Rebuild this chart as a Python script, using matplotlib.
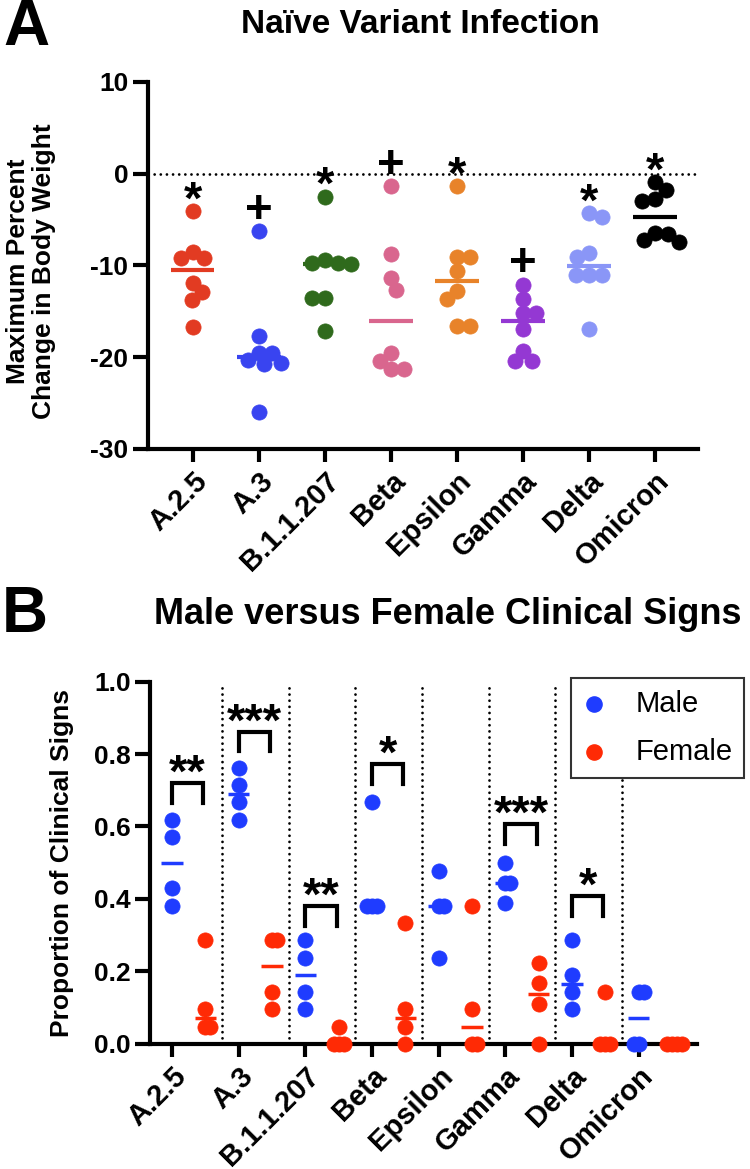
import numpy as np
import matplotlib.pyplot as plt

plt.rcParams['font.family'] = ['Liberation Sans', 'DejaVu Sans']
plt.rcParams['axes.unicode_minus'] = False

# Panel A: maximum percent change in body weight, 8 animals per variant
variants = ['A.2.5', 'A.3', 'B.1.1.207', 'Beta', 'Epsilon', 'Gamma', 'Delta', 'Omicron']
weight_a25 = [-4.1, -8.5, -9.2, -9.2, -11.9, -12.9, -13.8, -16.7]
weight_a3 = [-6.3, -17.7, -19.5, -19.6, -20.3, -20.6, -20.8, -26.0]
weight_b11207 = [-2.5, -9.4, -9.7, -9.7, -9.9, -13.6, -13.6, -17.2]
weight_beta = [-1.4, -8.8, -11.4, -12.7, -19.5, -20.4, -21.3, -21.3]
weight_epsilon = [-1.4, -9.1, -9.1, -10.6, -12.8, -13.7, -16.6, -16.6]
weight_gamma = [-12.1, -13.7, -15.2, -15.2, -16.9, -19.3, -20.4, -20.4]
weight_delta = [-4.3, -4.7, -8.6, -9.1, -11.1, -11.1, -11.1, -16.9]
weight_omicron = [-0.9, -1.8, -2.8, -3.0, -6.5, -6.6, -7.2, -7.4]
marks_a = ['*', '+', '*', '+', '*', '+', '*', '*']
colors_a = ['#E23B22', '#3944F0', '#2F6A1C', '#D9668E', '#E8832A', '#9438D3', '#8A96F7', '#000000']

# Panel B: proportion of clinical signs, male vs female
male = [[0.619, 0.571, 0.429, 0.381],
        [0.762, 0.714, 0.667, 0.619],
        [0.286, 0.238, 0.143, 0.095],
        [0.667, 0.381, 0.381, 0.381],
        [0.476, 0.381, 0.381, 0.238],
        [0.500, 0.444, 0.444, 0.389],
        [0.286, 0.190, 0.143, 0.095],
        [0.143, 0.143, 0.0, 0.0]]
female = [[0.286, 0.095, 0.048, 0.048],
          [0.286, 0.286, 0.143, 0.095],
          [0.048, 0.0, 0.0, 0.0],
          [0.333, 0.095, 0.048, 0.0],
          [0.381, 0.095, 0.0, 0.0],
          [0.222, 0.167, 0.111, 0.0],
          [0.143, 0.0, 0.0, 0.0],
          [0.0, 0.0, 0.0, 0.0]]
sig_b = ['**', '***', '**', '*', '', '***', '*', '']
bracket_b = [0.72, 0.862, 0.381, 0.773, None, 0.607, 0.409, None]

blue = '#1F3CFF'
red = '#FF2A05'

# vertical centre of each symbol glyph above its baseline, in em
glyph_mid = {'*': 0.58, '+': 0.35}


def swarm(values, px_x, px_y, diam):
    # horizontal offsets (data units) so markers don't stack on top of each other
    values = np.asarray(values, dtype=float)
    placed = []
    offsets = np.zeros(len(values))
    for i in np.argsort(-values, kind='stable'):
        y = values[i] * px_y
        right = sum(1 for p in placed if p[0] > 0.1)
        left = sum(1 for p in placed if p[0] < -0.1)
        signs = (1, -1) if right <= left else (-1, 1)
        chosen = 0.0
        for c in np.arange(0, 80, 0.5):
            hit = None
            for s in (signs if c else (1,)):
                x = s * c
                if all((x - px) ** 2 + (y - py) ** 2 >= diam ** 2 for px, py in placed):
                    hit = x
                    break
            if hit is not None:
                chosen = hit
                break
        placed.append((chosen, y))
        offsets[i] = chosen / px_x
    return offsets


def symbol(axis, x, y, text, size):
    # put the middle of the glyph (not of the text box) at (x, y)
    axis.annotate(text, (x, y), xytext=(0, -glyph_mid[text[0]] * size),
                  textcoords='offset points', ha='center', va='baseline',
                  fontsize=size, fontweight='bold', zorder=5)


def style_axis(axis):
    axis.tick_params(axis='y', length=11, width=3, pad=3)
    axis.tick_params(axis='x', length=9, width=3, pad=4)
    for side in ['top', 'right']:
        axis.spines[side].set_visible(False)
    for side in ['left', 'bottom']:
        axis.spines[side].set_linewidth(3)
    for lab in axis.get_yticklabels():
        lab.set_fontweight('bold')
        lab.set_fontsize(19)


fig = plt.figure(figsize=(7.5, 11.69), dpi=100)

# ---------------- Panel A ----------------
ax = fig.add_axes([0.197, 0.616, 0.734, 0.314])
groups_a = [weight_a25, weight_a3, weight_b11207, weight_beta,
            weight_epsilon, weight_gamma, weight_delta, weight_omicron]
ax.axhline(0, color='black', lw=2.0, ls=(0, (0.01, 2.2)), dash_capstyle='round', zorder=1)
for i, vals in enumerate(groups_a):
    off = swarm(vals, 66, 9.2, 13)
    ax.scatter(i + off, vals, s=120, color=colors_a[i], edgecolor=colors_a[i],
               linewidth=0.5, zorder=3)
    med = np.median(vals)
    ax.plot([i - 0.33, i + 0.33], [med, med], color=colors_a[i], lw=3, zorder=2,
            solid_capstyle='butt')
    symbol(ax, i, max(vals) + 2.7, marks_a[i], 34)

ax.set_xlim(-0.68, 7.65)
ax.set_ylim(-30, 10)
ax.set_yticks([10, 0, -10, -20, -30])
ax.set_xticks(range(len(variants)))
ax.set_xticklabels(variants, rotation=45, ha='right', rotation_mode='anchor',
                   fontsize=21, fontweight='bold')
style_axis(ax)

fig.text(31 / 750, 1 - 271 / 1169, 'Maximum Percent\nChange in Body Weight', rotation=90,
         ha='center', va='center', multialignment='center', fontsize=19,
         fontweight='bold', linespacing=1.12)
fig.text(420 / 750, 1 - 33 / 1169, 'Naïve Variant Infection', ha='center', va='baseline',
         fontsize=24, fontweight='bold')
fig.text(3 / 750, 1 - 45 / 1169, 'A', ha='left', va='baseline', fontsize=46, fontweight='bold')

# ---------------- Panel B ----------------
bx = fig.add_axes([0.2, 0.107, 0.729, 0.310])
for i in range(len(variants)):
    if i < len(variants) - 1:
        bx.plot([i + 0.75, i + 0.75], [0, 1.0], color='black', lw=2.0,
                ls=(0, (0.01, 2.2)), dash_capstyle='round', zorder=1)
    for vals, xc, col in ((male[i], i, blue), (female[i], i + 0.5, red)):
        off = swarm(vals, 66.7, 362.5, 5)
        bx.scatter(xc + off, vals, s=120, color=col, edgecolor=col, linewidth=0.5,
                   zorder=4, clip_on=False)
        med = np.median(vals)
        bx.plot([xc - 0.16, xc + 0.16], [med, med], color=col, lw=2.5, zorder=3,
                solid_capstyle='butt')
    if bracket_b[i] is not None:
        top = bracket_b[i]
        bx.plot([i, i, i + 0.47, i + 0.47], [top - 0.055, top, top, top - 0.055],
                color='black', lw=3, zorder=3, solid_joinstyle='miter')
        symbol(bx, i + 0.235, top + 0.065, sig_b[i], 34)

bx.set_xlim(-0.33, 7.87)
bx.set_ylim(0, 1.0)
bx.set_yticks([0, 0.2, 0.4, 0.6, 0.8, 1.0])
bx.set_yticklabels(['0.0', '0.2', '0.4', '0.6', '0.8', '1.0'])
bx.set_xticks(range(len(variants)))
bx.set_xticklabels(variants, rotation=45, ha='right', rotation_mode='anchor',
                   fontsize=21, fontweight='bold')
style_axis(bx)

hm = bx.scatter([], [], s=120, color=blue, label='Male')
hf = bx.scatter([], [], s=120, color=red, label='Female')
leg = bx.legend(handles=[hm, hf], loc='upper left', bbox_to_anchor=(0.77, 1.01),
                borderaxespad=0, frameon=True, fancybox=False, framealpha=1,
                edgecolor='#333333', fontsize=21, handlelength=0.8, handletextpad=1.0,
                borderpad=0.4, labelspacing=0.7)
leg.get_frame().set_linewidth(1.5)
leg.set_zorder(10)

fig.text(62 / 750, 1 - 863 / 1169, 'Proportion of Clinical Signs', rotation=90,
         ha='center', va='center', fontsize=19, fontweight='bold')
fig.text(448 / 750, 1 - 624 / 1169, 'Male versus Female Clinical Signs', ha='center',
         va='baseline', fontsize=26, fontweight='bold')
fig.text(2 / 750, 1 - 632 / 1169, 'B', ha='left', va='baseline', fontsize=46, fontweight='bold')

fig.savefig('out.png', dpi=100)
